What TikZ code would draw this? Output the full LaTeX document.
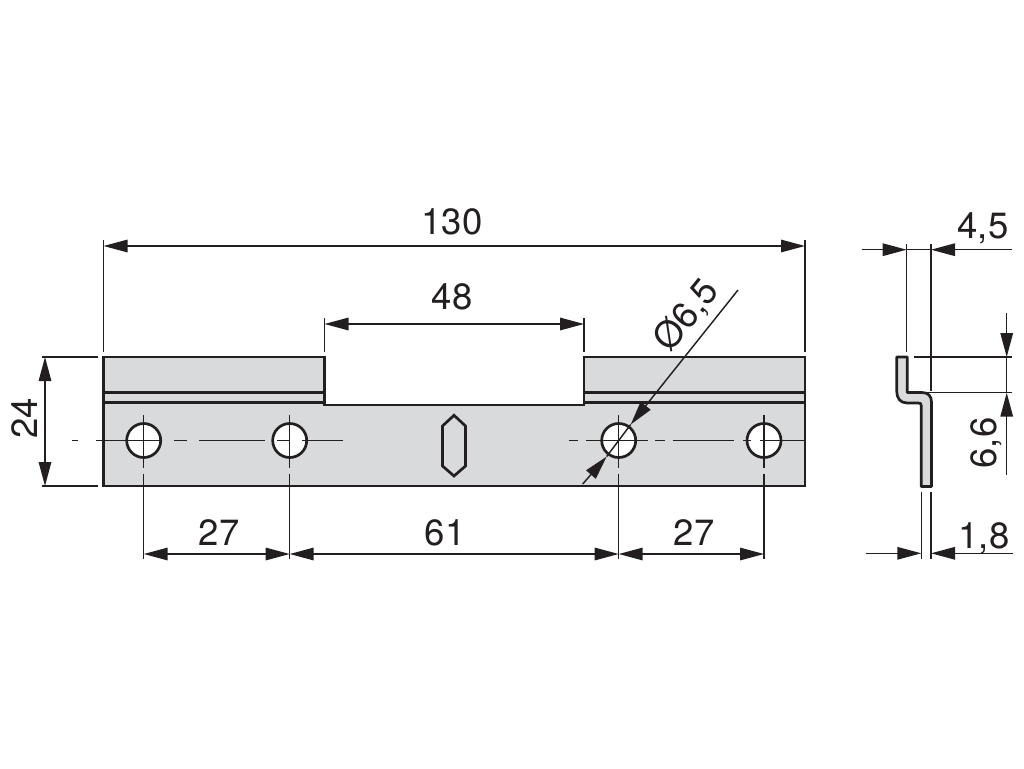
\documentclass[tikz,border=0pt]{standalone}
\usepackage{fontspec}
\setmainfont{TeX Gyre Heros}
\usetikzlibrary{arrows.meta}
\definecolor{ink}{HTML}{231F20}
\definecolor{steel}{HTML}{D9DADC}
\tikzset{
  outline/.style={draw=ink,line width=2.7pt,line join=miter},
  part/.style={outline,fill=steel},
  thin line/.style={draw=ink,line width=1.45pt},
  dim/.style={thin line,{Triangle[length=24pt,width=12.5pt,color=ink]}-{Triangle[length=24pt,width=12.5pt,color=ink]}},
  dimto/.style={thin line,-{Triangle[length=24pt,width=12.5pt,color=ink]}},
  hole/.style={circle,draw=ink,line width=2.7pt,fill=white,minimum size=34pt,inner sep=0pt},
  label/.style={text=ink,font=\fontsize{36.5}{36.5}\selectfont,inner sep=0pt}
}
\begin{document}
\begin{tikzpicture}[x=1pt,y=-1pt]
\useasboundingbox (0,0) rectangle (1024,768);
% plate
\path[part] (103.5,357) -- (324.5,357) -- (324.5,405) -- (584,405) -- (584,357) -- (805,357) -- (805,486) -- (103.5,486) -- cycle;
\draw[outline] (103.5,392.7) -- (324.5,392.7);
\draw[outline] (103.5,402.3) -- (324.5,402.3);
\draw[outline] (584,392.7) -- (805,392.7);
\draw[outline] (584,402.3) -- (805,402.3);
\path[outline] (454,415.3) -- (465.5,426) -- (465.5,466) -- (454,476) -- (442.5,466) -- (442.5,426) -- cycle;
% holes
\node[hole] (h1) at (143.7,440.5) {};
\node[hole] (h2) at (289.7,440.5) {};
\node[hole] (h3) at (618.7,440.5) {};
\node[hole] (h4) at (764,440.5) {};
% centre lines
\foreach \a/\b in {72/78,96/162,174/187,199/265,277/290,302/343,569/578,586/648,655/665,673/734,743/751,760/805}
  \draw[thin line] (\a,440.5) -- (\b,440.5);
\foreach \n/\x in {a/143.7,b/289.7,c/618.7,d/764}{
  \coordinate (\n t) at (\x,415);
  \coordinate (\n m) at (\x,468);
  \coordinate (\n s) at (\x,473.5);
  \coordinate (\n e) at (\x,559);
  \draw[thin line] (\n t) -- (\n m);
  \draw[thin line] (\n s) -- (\n e);
}
% side profile
\path[part,line join=round] (896.7,357) -- (907.3,357) -- (907.3,392.5) -- (922,392.5)
  .. controls (928,392.5) and (931.5,396) .. (931.5,402) -- (931.5,486.5) -- (921.3,486.5) -- (921.3,406)
  .. controls (921.3,403.5) and (920.5,403) .. (918,403) -- (907,403)
  .. controls (900,403) and (896.7,398) .. (896.7,391) -- cycle;
% extension lines
\coordinate (e1a) at (103.5,240); \coordinate (e1b) at (103.5,352);
\coordinate (e2a) at (805,240); \coordinate (e2b) at (805,352);
\coordinate (e3a) at (324.5,318); \coordinate (e3b) at (324.5,352);
\coordinate (e4a) at (584,318); \coordinate (e4b) at (584,352);
\coordinate (e5a) at (42,357); \coordinate (e5b) at (98,357);
\coordinate (e6a) at (42,486); \coordinate (e6b) at (98,486);
\foreach \n in {1,...,6} \draw[thin line] (e\n a) -- (e\n b);
\coordinate (s1a) at (906.7,244); \coordinate (s1b) at (906.7,351.5);
\coordinate (s2a) at (931,244); \coordinate (s2b) at (931,391);
\coordinate (s3a) at (914,357); \coordinate (s3b) at (1012,357);
\coordinate (s4a) at (907,392.7); \coordinate (s4b) at (1012,392.7);
\coordinate (s5a) at (921.3,491.5); \coordinate (s5b) at (921.3,559);
\coordinate (s6a) at (931,491.5); \coordinate (s6b) at (931,559);
\foreach \n in {1,...,6} \draw[thin line] (s\n a) -- (s\n b);
% dimensions, front view
\coordinate (d130l) at (103.5,246); \coordinate (d130r) at (805,246);
\draw[dim] (d130l) -- (d130r);
\coordinate (d48l) at (324.5,324); \coordinate (d48r) at (584,324);
\draw[dim] (d48l) -- (d48r);
\coordinate (d24t) at (45,357); \coordinate (d24b) at (45,486);
\draw[dim] (d24t) -- (d24b);
\coordinate (da) at (143.7,554); \coordinate (db) at (289.7,554);
\coordinate (dc) at (618.7,554); \coordinate (dd) at (764,554);
\draw[dim] (da) -- (db);
\draw[dim] (db) -- (dc);
\draw[dim] (dc) -- (dd);
% diameter leader
\coordinate (lt) at (738,290); \coordinate (lb) at (582.7,484);
\coordinate (tu) at (630.7,424.5); \coordinate (td) at (606.7,456.5);
\draw[dimto] (lt) -- (tu);
\draw[dimto] (lb) -- (td);
\draw[thin line] (tu) -- (td);
% dimensions, side view
\coordinate (a1) at (861.7,249.7); \coordinate (a1t) at (906.7,249.7);
\coordinate (a2) at (1012,249.7); \coordinate (a2t) at (931,249.7);
\draw[dimto] (a1) -- (a1t);
\draw[dimto] (a2) -- (a2t);
\draw[thin line] (a1t) -- (a2t);
\coordinate (b1) at (866,553.3); \coordinate (b1t) at (921.3,553.3);
\coordinate (b2) at (1013,553.3); \coordinate (b2t) at (931,553.3);
\draw[dimto] (b1) -- (b1t);
\draw[dimto] (b2) -- (b2t);
\coordinate (c1) at (1006.7,313); \coordinate (c1t) at (1006.7,357);
\coordinate (c2) at (1006.7,475); \coordinate (c2t) at (1006.7,392.7);
\draw[dimto] (c1) -- (c1t);
\draw[dimto] (c2) -- (c2t);
\draw[thin line] (c1t) -- (c2t);
% labels
\node[label] (t130) at (452,221.5) {130};
\node[label] (t48) at (452,297) {48};
\node[label,rotate=90] (t24) at (25,418) {24};
\node[label] (t27a) at (219,533) {27};
\node[label] (t61) at (445,533) {61};
\node[label] (t27b) at (694,533) {27};
\node[label,rotate=51] (tdia) at (687,316) {Ø6,5};
\node[label] (t45) at (983,228) {4,5};
\node[label,rotate=90] (t66) at (986,443) {6,6};
\node[label] (t18) at (984,538) {1,8};
\end{tikzpicture}
\end{document}
